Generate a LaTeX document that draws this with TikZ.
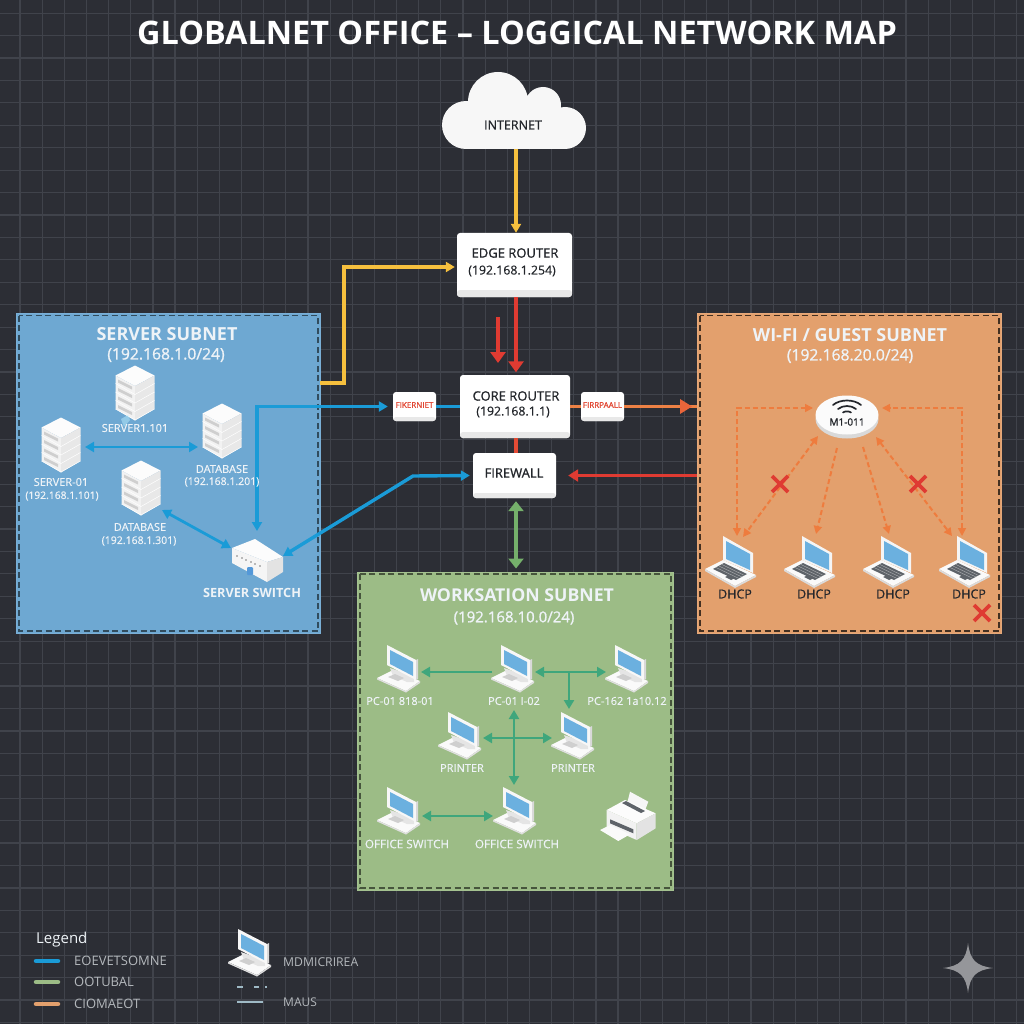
\documentclass[tikz,border=0pt]{standalone}
\usepackage{fontspec}
\setmainfont{Open Sans}
\newfontfamily\medf[FakeBold=0.5]{Open Sans}
\newfontfamily\semif[FakeBold=1.1]{Open Sans}
\usetikzlibrary{arrows.meta}
\newcommand\fsz[1]{\fontsize{#1}{#1}\selectfont}
\definecolor{bg}{HTML}{2C2E35}
\definecolor{gridc}{HTML}{40434B}
\definecolor{cblue}{HTML}{1A9BD7}
\definecolor{cyel}{HTML}{F6C03E}
\definecolor{cred}{HTML}{DF3B32}
\definecolor{cora}{HTML}{EE7C3E}
\definecolor{cgrn}{HTML}{3FA67C}
\definecolor{pblue}{HTML}{6EA8D2}
\definecolor{pora}{HTML}{E3A06D}
\definecolor{pgrn}{HTML}{9CBC86}
\definecolor{wtxt}{HTML}{EEF3F7}
\definecolor{dtxt}{HTML}{23262B}
\definecolor{scr}{HTML}{6BB0DF}
\definecolor{keyc}{HTML}{5E6369}
\tikzset{
  x=1pt,y=-1pt,
  gridline/.style={draw=gridc,line width=1.2pt},
  panel/.style={rectangle,inner sep=0,draw=#1,line width=1pt},
  inborder/.style={draw=#1,line width=1.1pt,dash pattern=on 6pt off 3.5pt},
  whitebox/.style args={#1 strip #2}{rectangle,rounded corners=3pt,inner sep=0,fill=white,
     path picture={\fill[#2] (path picture bounding box.south west) rectangle
        ([yshift=#1]path picture bounding box.south east);}},
  hit/.style={rectangle,inner sep=0,minimum width=36pt,minimum height=40pt},
  lab/.style={inner sep=0,text=wtxt,font=\medf\fsz{11}},
  dlab/.style={inner sep=0,text=dtxt,font=\semif\fsz{13}},
  ptitle/.style={inner sep=0,text=wtxt,font=\bfseries\fsz{18}},
  psub/.style={inner sep=0,text=wtxt,font=\semif\fsz{15.7}},
  smalltxt/.style={inner sep=0,text=cred!80!cora,font=\semif\fsz{8}},
  tip/.style={-{Triangle[length=9pt,width=10pt]}},
  tips/.style={{Triangle[length=9pt,width=10pt]}-{Triangle[length=9pt,width=10pt]}},
  blueline/.style={draw=cblue,line width=3.4pt},
  yelline/.style={draw=cyel,line width=3.8pt},
  greenline/.style={draw=cgrn,line width=2.6pt},
  dashline/.style={draw=cora,line width=1.6pt,dash pattern=on 5pt off 3pt},
  dashtip/.style={-{Triangle[length=8pt,width=8pt]}},
  dashtips/.style={{Triangle[length=8pt,width=8pt]}-{Triangle[length=8pt,width=8pt]}},
  legtxt/.style={inner sep=0,anchor=west,text=black!10!wtxt!80!bg,font=\fsz{13}},
  pics/serverpic/.style={code={
    \fill[white!98!gray] (0,-27.5)--(19.5,-17.5)--(0,-7)--(-19.5,-17.5)--cycle;
    \fill[white!90!gray] (-19.5,-17.5)--(0,-7)--(0,27.5)--(-19.5,16)--cycle;
    \fill[white!82!gray] (19.5,-17.5)--(0,-7)--(0,27.5)--(19.5,16)--cycle;
    \foreach \i in {0,1,2,3}{
      \fill[white!62!gray] (-17,{-13.5+8.5*\i})--(-3,{-6.5+8.5*\i})--(-3,{-3.5+8.5*\i})--(-17,{-10.5+8.5*\i})--cycle;
      \draw[white,line width=.5pt] (-19.5,{-9.5+8.5*\i})--(0,{1.5+8.5*\i})--(19.5,{-9.5+8.5*\i});
    }
  }},
  pics/laptoppic/.style={code={
    \fill[white!92!gray] (-7,-24)--(23,-7)--(23,13)--(-7,0)--cycle;
    \fill[scr] (-4,-19)--(20,-6)--(20,10)--(-4,-1)--cycle;
    \fill[white!96!gray] (-25,9)--(-7,0)--(26,15)--(5,26)--cycle;
    \fill[white!72!gray] (-25,9)--(5,26)--(26,15)--(26,17)--(5,28)--(-25,11)--cycle;
    \fill[keyc] (-17,9)--(-6,3)--(17,14)--(6,20)--cycle;
    \draw[white!55!keyc,line width=.35pt] (-14,7.5)--(9,18.5) (-11,6)--(12,17) (-8,4.5)--(14.5,15.5);
    \fill[keyc] (-5,17)--(-1,15)--(5,18)--(1,20)--cycle;
  }},
  pics/monitorpic/.style={code={
    \fill[white!96!gray] (-22,10)--(-6,2)--(21,13)--(7,23)--cycle;
    \fill[white!75!gray] (-22,10)--(7,23)--(21,13)--(21,15)--(7,24.5)--(-22,11.5)--cycle;
    \fill[white!80!gray] (-9,0)--(-6,8)--(8,14)--(15,14)--(15,8)--cycle;
    \fill[white!94!gray] (-12,-23)--(17,-8)--(17,12)--(-12,-3)--cycle;
    \fill[white!70!gray] (17,-8)--(19,-9)--(19,11)--(17,12)--cycle;
    \fill[scr] (-9,-18)--(14,-6)--(14,8)--(-9,-4)--cycle;
    \fill[white!62!gray] (-11,9)--(-4,6)--(5,10)--(-1,13)--cycle;
  }},
  pics/switchpic/.style={code={
    \fill[white!98!gray] (-2,-21)--(26,-3)--(10,2)--(-25,-12)--cycle;
    \fill[white!92!gray] (-25,-12)--(10,2)--(10,22)--(-25,3)--cycle;
    \fill[white!78!gray] (26,-3)--(10,2)--(10,22)--(26,12)--cycle;
    \foreach \i in {0,1,2,3,4,5}{\fill[white!45!gray] ({-21+4.5*\i},{-5+2*\i}) rectangle ++(2.4,1.6);}
    \fill[cyan!60!blue!70!white,rounded corners=1pt] (-10,7) rectangle (-4,15);
  }},
  pics/printerpic/.style={code={
    \fill[white!93!gray] (2,-24.3)--(20.3,-14.3)--(15.3,-1)--(-1.3,-11)--cycle;
    \fill[white!98!gray] (-21.3,-6)--(-3,-16)--(27.7,-2.7)--(8.7,7.3)--cycle;
    \fill[keyc] (-6,-13)--(-2,-15)--(17,-5)--(13,-3)--cycle;
    \fill[white!90!gray] (-21.3,-6)--(8.7,7.3)--(8.7,24)--(-21.3,10.7)--cycle;
    \fill[white!78!gray] (8.7,7.3)--(27.7,-2.7)--(27.7,12.3)--(8.7,24)--cycle;
    \fill[keyc] (-18,3.3)--(5.3,13.3)--(5.3,17.3)--(-18,7.3)--cycle;
    \fill[white!96!gray] (-28,14)--(-18,9)--(2,18.3)--(-9.7,25)--cycle;
  }},
  pics/redx/.style={code={
    \draw[cred,line width=3.6pt] (-8,-8)--(8,8) (-8,8)--(8,-8);
  }},
}
\begin{document}
\begin{tikzpicture}
\useasboundingbox (0,0) rectangle (1024,1024);
\fill[bg] (0,0) rectangle (1024,1024);
\foreach \k in {0,...,45}{
  \draw[gridline] ({20+22.15*\k},0) -- ({20+22.15*\k},1024);
}
\foreach \k in {-2,...,43}{
  \draw[gridline] (0,{58+22.43*\k}) -- (1024,{58+22.43*\k});
}

% title
\node[inner sep=0,text=white,font=\bfseries\fsz{32.4}] (title) at (517,33) {GLOBALNET OFFICE – LOGGICAL NETWORK MAP};

% panels
\node[panel=pblue!92!white,fill=pblue,minimum width=304pt,minimum height=320pt] (srv) at (168,473) {};
\node[panel=pora!92!white,fill=pora,minimum width=304pt,minimum height=320pt] (wifi) at (849,473) {};
\node[panel=pgrn!92!white,fill=pgrn,minimum width=316pt,minimum height=318pt] (ws) at (515,731) {};
\draw[inborder=black!55!pblue] (19,315.5) rectangle (318,631);
\draw[inborder=black!70!pora] (700,315.5) rectangle (999,631);
\draw[inborder=black!55!pgrn] (360,574) rectangle (671,888);

% cloud
\fill[white!94!gray] (498,102) circle (30) (543,105) circle (18) (466,125) circle (24) (565,128) circle (21);
\fill[white!94!gray] (466,149) -- (466,110) -- (565,110) -- (565,149) -- cycle;
\node[inner sep=0,text=dtxt,font=\semif\fsz{12.5}] (internet) at (513,125) {INTERNET};
\coordinate (cloudb) at (516,149);

% router boxes
\node[whitebox=7pt strip white!82!gray,minimum width=115pt,minimum height=64pt] (edge) at (514.5,265) {};
\node[dlab] (edgeA) at (515,253) {EDGE ROUTER};
\node[dlab,font=\medf\fsz{12.3}] (edgeB) at (512,271) {(192.168.1.254)};
\node[whitebox=6pt strip white!82!gray,minimum width=110pt,minimum height=63pt] (core) at (515,406.5) {};
\node[dlab] (coreA) at (516,396) {CORE ROUTER};
\node[dlab,font=\medf\fsz{12.3}] (coreB) at (513,412) {(192.168.1.1)};
\node[whitebox=5pt strip white!82!gray,minimum width=83pt,minimum height=45pt] (fw) at (514.5,475.5) {};
\node[dlab] (fwA) at (514,473) {FIREWALL};
\node[whitebox=4pt strip white!82!gray,minimum width=43pt,minimum height=29pt] (fk) at (414.5,406.5) {};
\node[smalltxt] (fkA) at (414.5,405) {FIKERNIET};
\node[whitebox=4pt strip white!82!gray,minimum width=43pt,minimum height=29pt] (fp) at (602.5,406.5) {};
\node[smalltxt] (fpA) at (602.5,405) {FIRRPAALL};

% icon nodes
\node[hit] (srv2) at (135,393) {};
\node[hit] (srv01) at (61,445) {};
\node[hit] (db1) at (222,431) {};
\node[hit] (db2) at (141,488) {};
\node[hit] (sw) at (257,560) {};
\node[hit] (ap) at (847,415) {};
\node[hit] (lap1) at (730,560) {};
\node[hit] (lap2) at (809,560) {};
\node[hit] (lap3) at (888,560) {};
\node[hit] (lap4) at (964,560) {};
\node[hit] (pc1) at (399,668) {};
\node[hit] (pc2) at (513,668) {};
\node[hit] (pc3) at (627,668) {};
\node[hit] (pr1) at (460,735) {};
\node[hit] (pr2) at (573,735) {};
\node[hit] (os1) at (399,810) {};
\node[hit] (os2) at (515,810) {};
\node[hit] (prn) at (628,816) {};

% connectors
\draw[yelline,tip] (cloudb) -- ([shift={(1.5,0)}]edge.north) ;
\coordinate (yst) at (320,383);
\coordinate (ybend) at (344,383);
\draw[yelline,tip,shorten >=2pt] (yst) -- (ybend) |- ([shift={(0,2)}]edge.west);
\draw[cred,line width=4pt,tip,shorten >=2.5pt,-{Triangle[length=11pt,width=15pt]}] ([shift={(1.5,0)}]edge.south) -- ([shift={(1,0)}]core.north);
\coordinate (r2a) at (498,317);
\coordinate (r2b) at (498,363);
\draw[cred,line width=4pt,-{Triangle[length=11pt,width=15pt]}] (r2a) -- (r2b);
\draw[draw=cred!75!cora,line width=4.5pt] ([shift={(1,0)}]core.south) -- ([shift={(1.5,0)}]fw.north);
\draw[blueline,tips,shorten >=5pt] ([shift={(0,-29)}]sw.center) |- (fk.west);
\draw[blueline] (fk.east) -- (core.west);
\draw[draw=cora!85!pora,line width=3.4pt] (core.east) -- (fp.west);
\draw[draw=cora!85!pora,line width=3.4pt] (fp.east) -- (fp.east -| wifi.west);
\fill[cred!35!cora] (680,399) -- (692,406.5) -- (680,414) -- cycle;
\coordinate (fwbend) at (413,476);
\draw[blueline,{Triangle[length=9pt,width=10pt]}-{Triangle[length=9pt,width=10pt]},shorten >=3pt] ([shift={(26,-4)}]sw.center) -- (fwbend) -- (fw.west);
\draw[cred,line width=3.6pt,-{Triangle[length=10pt,width=12pt]},shorten >=12pt] (wifi.west |- fw.east) -- (fw.east);
\draw[draw=pgrn!70!green!60!gray,line width=4.5pt,{Triangle[length=10pt,width=15pt]}-{Triangle[length=10pt,width=15pt]},shorten <=3pt,shorten >=3pt] ([shift={(1.5,0)}]fw.south) -- ([shift={(1,0)}]ws.north);

% server subnet links
\draw[blueline,tips,line width=2.8pt] ([shift={(24,2)}]srv01.center) -- ([shift={(-24,16)}]db1.center);
\draw[blueline,tips,line width=2.8pt] ([shift={(21,22)}]db2.center) -- ([shift={(-26,-12)}]sw.center);

% wifi links
\draw[dashline,dashtips] ([shift={(7,-24)}]lap1.center) |- ([shift={(-34,-7)}]ap.center);
\draw[dashline,dashtips] ([shift={(-2,-24)}]lap4.center) |- ([shift={(35,-7)}]ap.center);
\draw[dashline,dashtips,line width=2pt] ([shift={(-29,21)}]ap.center) -- ([shift={(13,-23)}]lap1.center);
\draw[dashline,dashtip,line width=2pt] ([shift={(-10,33)}]ap.center) -- ([shift={(7,-26)}]lap2.center);
\draw[dashline,dashtip,line width=2pt] ([shift={(16,32)}]ap.center) -- ([shift={(1,-26)}]lap3.center);
\draw[dashline,dashtips,line width=2pt] ([shift={(29,22)}]ap.center) -- ([shift={(-12,-24)}]lap4.center);
\pic at (780,484) {redx};
\pic at (918,484) {redx};
\pic at (982,613) {redx};

% workstation links
\draw[greenline,tip] ([shift={(-21,4)}]pc2.center) -- ([shift={(22,4)}]pc1.center);
\draw[greenline,tips] ([shift={(22,4)}]pc2.center) -- ([shift={(-21,4)}]pc3.center);
\draw[greenline,tip] ([shift={(56,4)}]pc2.center) -- ([shift={(-4,-26)}]pr2.center);
\draw[greenline,tips] ([shift={(23,3)}]pr1.center) -- ([shift={(-21,3)}]pr2.center);
\draw[greenline,tips] ([shift={(1,42)}]pc2.center) -- ([shift={(-1,-25)}]os2.center);
\draw[greenline,tips] ([shift={(23,6)}]os1.center) -- ([shift={(-22,6)}]os2.center);

% icons
\pic at (srv2.center) {serverpic};
\fill[cyan!30!white,opacity=.55] (121,419) -- (128,415) -- (130,420) -- (124,427) -- cycle;
\pic at (srv01.center) {serverpic};
\pic at (db1.center) {serverpic};
\pic at (db2.center) {serverpic};
\pic at (sw.center) {switchpic};
\foreach \n in {lap1,lap2,lap3,lap4}{\pic at (\n.center) {laptoppic};}
\foreach \n in {pc1,pc2,pc3,pr1,pr2,os1,os2}{\pic at (\n.center) {monitorpic};}
\pic at (prn.center) {printerpic};

% access point
\fill[white!70!gray] (847,419) ellipse [x radius=31.5,y radius=19.5];
\fill[white!97!gray] (847,415) ellipse [x radius=31.5,y radius=19.5];
\draw[dtxt,line width=1.7pt,line cap=round] (833,405) .. controls (840,399) and (854,399) .. (861,405);
\draw[dtxt,line width=1.7pt,line cap=round] (838,409) .. controls (843,405) and (851,405) .. (856,409);
\draw[dtxt,line width=1.7pt,line cap=round] (843,412.5) .. controls (845,411) and (849,411) .. (851,412.5);
\node[inner sep=0,text=dtxt,font=\semif\fsz{10}] (apA) at (847,422) {M1-011};

% panel labels
\node[ptitle] (srvT) at (167,334) {SERVER SUBNET};
\node[psub] (srvS) at (166,355) {(192.168.1.0/24)};
\node[lab] (l1) at (135,428) {SERVER1.101};
\node[lab] (l2) at (61,482) {SERVER-01};
\node[lab,font=\medf\fsz{10.3}] (l3) at (62,496) {(192.168.1.101)};
\node[lab] (l4) at (222,469) {DATABASE};
\node[lab,font=\medf\fsz{10.5}] (l5) at (222,482) {(192.168.1.201)};
\node[lab] (l6) at (140,527) {DATABASE};
\node[lab,font=\medf\fsz{10.5}] (l7) at (139,541) {(192.168.1.301)};
\node[lab,font=\bfseries\fsz{12.7}] (l8) at (252,593) {SERVER SWITCH};

\node[ptitle] (wifT) at (850,335) {WI-FI / GUEST SUBNET};
\node[psub] (wifS) at (850,356) {(192.168.20.0/24)};
\node[dlab,font=\medf\fsz{12.5}] (d1) at (735,594) {DHCP};
\node[dlab,font=\medf\fsz{12.5}] (d2) at (814,594) {DHCP};
\node[dlab,font=\medf\fsz{12.5}] (d3) at (893,594) {DHCP};
\node[dlab,font=\medf\fsz{12.5}] (d4) at (969,594) {DHCP};

\node[ptitle,font=\bfseries\fsz{17.7}] (wsT) at (517,595) {WORKSATION SUBNET};
\node[psub,font=\semif\fsz{15}] (wsS) at (514,618) {(192.168.10.0/24)};
\node[lab] (w1) at (400,701) {PC-01 818-01};
\node[lab] (w2) at (514,701) {PC-01 I-02};
\node[lab] (w3) at (627,701) {PC-162 1a10.12};
\node[lab] (w4) at (462,768) {PRINTER};
\node[lab] (w5) at (573,768) {PRINTER};
\node[lab,font=\medf\fsz{11.7}] (w6) at (407,844) {OFFICE SWITCH};
\node[lab,font=\medf\fsz{11.7}] (w7) at (517,844) {OFFICE SWITCH};

% legend
\node[inner sep=0,anchor=west,text=wtxt,font=\fsz{15}] (lgT) at (36,940) {Legend};
\draw[cblue,line width=4.5pt,line cap=round] (36,961) -- (58,961);
\draw[pgrn,line width=4.5pt,line cap=round] (36,982) -- (58,982);
\draw[pora,line width=4.5pt,line cap=round] (36,1004) -- (58,1004);
\node[legtxt] (lg1) at (74,961) {EOEVETSOMNE};
\node[legtxt] (lg2) at (74,982) {OOTUBAL};
\node[legtxt] (lg3) at (74,1004) {CIOMAEOT};
\pic at (250,952) {monitorpic};
\node[legtxt,font=\fsz{12.2}] (lg4) at (283,962) {MDMICRIREA};
\draw[cyan!30!gray!70!white,line width=2pt] (237,987) -- (243,987) (254,987) -- (259,987) (265,987) -- (267,987);
\draw[cyan!30!gray!70!white,line width=2pt] (237,1002) -- (263,1002);
\node[legtxt,font=\fsz{12}] (lg5) at (283,1002) {MAUS};

% sparkle
\fill[white!50!bg] (968,943) .. controls (970,960) and (976,966) .. (993,968)
   .. controls (976,970) and (970,976) .. (968,993)
   .. controls (966,976) and (960,970) .. (943,968)
   .. controls (960,966) and (966,960) .. (968,943) -- cycle;
\end{tikzpicture}
\end{document}
